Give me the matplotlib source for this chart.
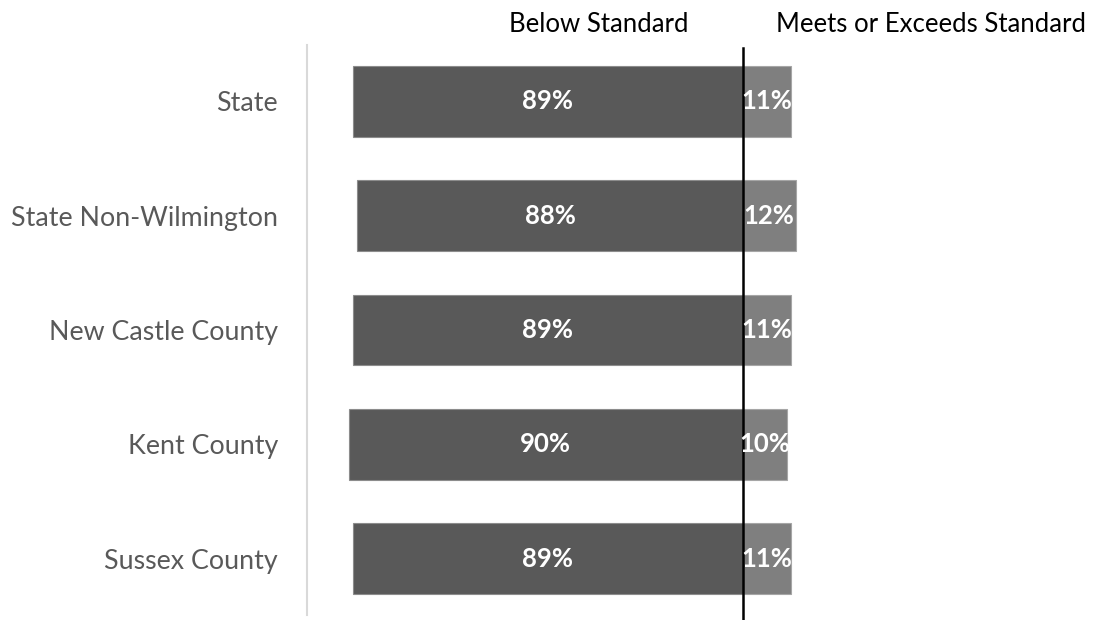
import matplotlib.pyplot as plt

plt.rcParams['font.family'] = ['Lato', 'DejaVu Sans']

regions = ['State', 'State Non-Wilmington', 'New Castle County', 'Kent County', 'Sussex County']
below = [89, 88, 89, 90, 89]
meets = [11, 12, 11, 10, 11]

fig = plt.figure(figsize=(10.97, 6.2), dpi=100)
ax = fig.add_axes([307 / 1097, 5 / 620, 783 / 1097, 570 / 620])

ypos = list(range(len(regions)))
neg = [-b for b in below]
ax.barh(ypos, neg, height=0.62, color='#595959', edgecolor='#8c8c8c', linewidth=0.8)
ax.barh(ypos, meets, height=0.62, color='#7f7f7f', edgecolor='#a6a6a6', linewidth=0.8)

for y, b, m in zip(ypos, below, meets):
    ax.text(-b / 2, y, f'{b}%', ha='center', va='center', color='white',
            fontsize=18.5, fontweight='bold')
    ax.text(m / 2, y, f'{m}%', ha='center', va='center', color='white',
            fontsize=18.5, fontweight='bold')

ax.axvline(0, ymin=-0.01, ymax=0.995, color='black', linewidth=1.8, clip_on=False)

ax.set_xlim(-99.5, 79.2)
ax.set_ylim(4.49, -0.49)
ax.set_yticks(ypos)
ax.set_yticklabels(regions, fontsize=19.3, color='#595959')
ax.tick_params(axis='y', length=0, pad=21)
ax.set_xticks([])
for s in ['top', 'right', 'bottom']:
    ax.spines[s].set_visible(False)
ax.spines['left'].set_color('#d9d9d9')
ax.spines['left'].set_linewidth(1.5)

fig.text(599 / 1097, 1 - 24 / 620, 'Below Standard', ha='center', va='center', fontsize=18.5)
fig.text(931 / 1097, 1 - 24 / 620, 'Meets or Exceeds Standard', ha='center', va='center', fontsize=18.5)

fig.savefig('out.png', dpi=100)
